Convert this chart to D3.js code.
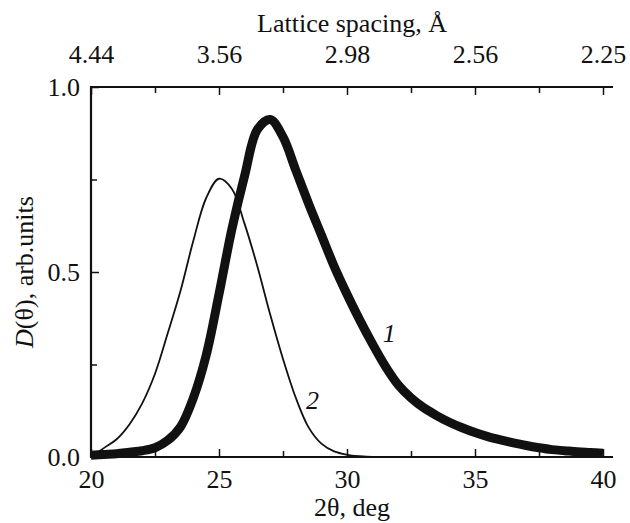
<!DOCTYPE html>
<html>
<head>
<meta charset="utf-8">
<script src="https://cdn.jsdelivr.net/npm/d3@7"></script>
<style>
  body { margin: 0; background: #fff; }
  svg text { font-family: "Liberation Serif", "DejaVu Serif", serif; fill: #111; }
</style>
</head>
<body>
<div id="chart"></div>
<script>
// 2θ, deg  (shared grid for both curves)
const twoTheta = [20, 20.5, 21, 21.5, 22, 22.5, 23, 23.5, 24, 24.5, 25, 25.5, 26, 26.5, 27, 27.5,
  28, 28.5, 29, 29.5, 30, 30.5, 31, 31.5, 32, 32.5, 33, 33.5, 34, 34.5, 35, 35.5, 36, 36.5,
  37, 37.5, 38, 38.5, 39, 39.5, 40];

// curve 1 (thick)
const curve1 = [0.005, 0.007, 0.009, 0.013, 0.017, 0.025, 0.045, 0.082, 0.16, 0.275, 0.44, 0.615,
  0.76, 0.885, 0.912, 0.865, 0.775, 0.685, 0.60, 0.515, 0.44, 0.37, 0.305, 0.245, 0.195, 0.16,
  0.133, 0.112, 0.094, 0.079, 0.066, 0.055, 0.046, 0.038, 0.031, 0.025, 0.02, 0.017, 0.014, 0.012, 0.01];

// curve 2 (thin)
const curve2 = [0.0, 0.024, 0.048, 0.088, 0.145, 0.225, 0.335, 0.45, 0.585, 0.70, 0.752, 0.725, 0.63,
  0.515, 0.385, 0.265, 0.16, 0.08, 0.036, 0.015, 0.006, 0.002, 0, 0, 0, 0, 0, 0, 0, 0, 0, 0, 0, 0,
  0, 0, 0, 0, 0, 0, 0];

const bottomTicks = [20, 25, 30, 35, 40];
const minorTicks = [22.5, 27.5, 32.5, 37.5];
const topTickLabels = ["4.44", "3.56", "2.98", "2.56", "2.25"];
const yTicks = [0, 0.5, 1.0];
const yMinor = [0.25, 0.75];

const W = 630, H = 523;
const plotLeft = 91, plotTop = 87, plotBottom = 457;
const frameRight = 613;

const svg = d3.select("#chart").append("svg")
  .attr("width", W).attr("height", H);

const x = d3.scaleLinear().domain([20, 40]).range([plotLeft, 603]);
const y = d3.scaleLinear().domain([0, 1]).range([plotBottom, plotTop]);

const fs = "26px";

// bottom axis
const bx = svg.append("g").attr("transform", `translate(0,${plotBottom})`)
  .call(d3.axisBottom(x).tickValues(bottomTicks).tickFormat(d3.format("d"))
    .tickSizeInner(-8).tickSizeOuter(0).tickPadding(13));
bx.select(".domain").remove();
bx.selectAll("text").style("font-size", fs);
svg.append("g").attr("transform", `translate(0,${plotBottom})`)
  .call(d3.axisBottom(x).tickValues(minorTicks).tickFormat("").tickSizeInner(-6).tickSizeOuter(0))
  .select(".domain").remove();

// top axis (lattice spacing)
const tx = svg.append("g").attr("transform", `translate(0,${plotTop})`)
  .call(d3.axisTop(x).tickValues(bottomTicks).tickFormat((d, i) => topTickLabels[i])
    .tickSizeInner(-8).tickSizeOuter(0).tickPadding(24));
tx.select(".domain").remove();
tx.selectAll("text").style("font-size", fs);
svg.append("g").attr("transform", `translate(0,${plotTop})`)
  .call(d3.axisTop(x).tickValues(minorTicks).tickFormat("").tickSizeInner(-6).tickSizeOuter(0))
  .select(".domain").remove();

// y axis
const ly = svg.append("g").attr("transform", `translate(${plotLeft},0)`)
  .call(d3.axisLeft(y).tickValues(yTicks).tickFormat(d3.format(".1f"))
    .tickSizeInner(-8).tickSizeOuter(0).tickPadding(11));
ly.select(".domain").remove();
ly.selectAll("text").style("font-size", fs);
svg.append("g").attr("transform", `translate(${plotLeft},0)`)
  .call(d3.axisLeft(y).tickValues(yMinor).tickFormat("").tickSizeInner(-6).tickSizeOuter(0))
  .select(".domain").remove();

svg.selectAll(".tick line").attr("stroke", "#111").attr("stroke-width", 1.5);

// curves
const lineGen = d3.line().x((d, i) => x(twoTheta[i])).y(d => y(d)).curve(d3.curveCatmullRom.alpha(0.5));

svg.append("path").datum(curve2)
  .attr("fill", "none").attr("stroke", "#111").attr("stroke-width", 1.8)
  .attr("d", lineGen);

svg.append("path").datum(curve1)
  .attr("fill", "none").attr("stroke", "#111").attr("stroke-width", 9)
  .attr("stroke-linejoin", "round")
  .attr("d", lineGen);

// frame
svg.append("line").attr("x1", plotLeft).attr("x2", plotLeft).attr("y1", plotTop).attr("y2", plotBottom + 1)
  .attr("stroke", "#111").attr("stroke-width", 2.2);
svg.append("line").attr("x1", plotLeft - 1).attr("x2", frameRight).attr("y1", plotTop).attr("y2", plotTop)
  .attr("stroke", "#111").attr("stroke-width", 2.2);
svg.append("line").attr("x1", plotLeft - 1).attr("x2", frameRight).attr("y1", plotBottom).attr("y2", plotBottom)
  .attr("stroke", "#111").attr("stroke-width", 2.2);

// curve labels
svg.append("text").attr("x", x(31.4)).attr("y", y(0.311))
  .style("font-size", fs).style("font-style", "italic").text("1");
svg.append("text").attr("x", x(28.4)).attr("y", y(0.13))
  .style("font-size", fs).style("font-style", "italic").text("2");

// titles
svg.append("text").attr("x", (plotLeft + frameRight) / 2).attr("y", 32)
  .attr("text-anchor", "middle").style("font-size", fs).text("Lattice spacing, Å");
svg.append("text").attr("x", (plotLeft + frameRight) / 2).attr("y", 516)
  .attr("text-anchor", "middle").style("font-size", fs).text("2θ, deg");

const yt = svg.append("text")
  .attr("transform", `translate(33,${(plotTop + plotBottom) / 2}) rotate(-90)`)
  .attr("text-anchor", "middle").style("font-size", fs);
yt.append("tspan").style("font-style", "italic").text("D");
yt.append("tspan").text("(θ), arb.units");
</script>
</body>
</html>
